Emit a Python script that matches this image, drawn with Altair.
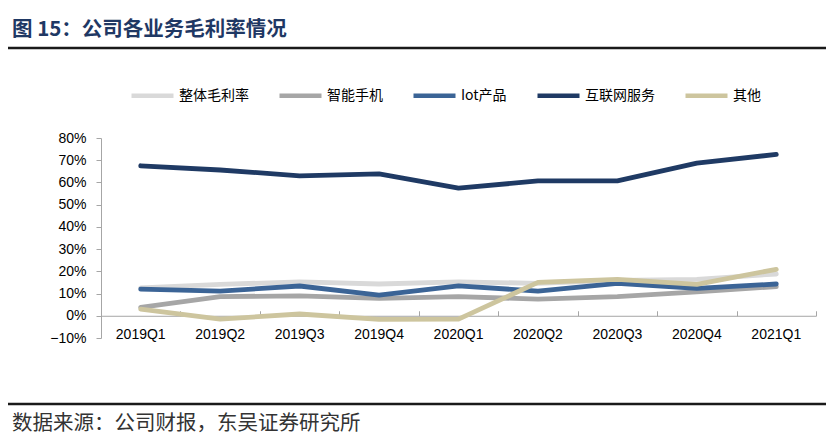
import altair as alt
import pandas as pd

quarters = ["2019Q1", "2019Q2", "2019Q3", "2019Q4", "2020Q1",
            "2020Q2", "2020Q3", "2020Q4", "2021Q1"]
series_names = ["整体毛利率", "智能手机", "Iot产品", "互联网服务", "其他"]
series_colors = ["#d9d9d9", "#a6a6a6", "#3b6496", "#1f3a64", "#cdc59e"]

# gross margin, %
overall = [12.6, 14.1, 15.3, 14.3, 15.3, 14.6, 15.9, 16.4, 18.8]
phone = [3.8, 8.6, 9.0, 7.8, 8.6, 7.5, 8.6, 10.8, 13.1]
iot = [12.0, 11.1, 13.4, 9.3, 13.5, 11.1, 14.6, 12.3, 14.3]
internet = [67.5, 65.6, 63.0, 63.9, 57.4, 60.7, 60.7, 68.7, 72.6]
other = [3.0, -1.5, 0.8, -1.6, -1.5, 15.0, 16.4, 14.1, 20.9]

y_ticks = [-0.1, 0, 0.1, 0.2, 0.3, 0.4, 0.5, 0.6, 0.7, 0.8]

title_text = "图 15：公司各业务毛利率情况"
source_text = "数据来源：公司财报，东吴证券研究所"

rows = []
for name, vals in zip(series_names, [overall, phone, iot, internet, other]):
    for q, v in zip(quarters, vals):
        rows.append({"quarter": q, "series": name, "rate": v / 100})
df = pd.DataFrame(rows)

W = 715
H = 200
zero_px = H * 0.8 / 0.9

x_scale = alt.Scale(type="band", domain=quarters, paddingInner=0, paddingOuter=0)

lines = alt.Chart(df).mark_line(strokeWidth=4.8, strokeCap="round", strokeJoin="round").encode(
    x=alt.X("quarter:O", scale=x_scale, bandPosition=0.5,
            axis=alt.Axis(orient="bottom", title=None, domain=False, ticks=False,
                          labelAngle=0, labelPadding=0, offset=-11,
                          labelFont="Liberation Sans", labelFontSize=14,
                          labelColor="#000000")),
    y=alt.Y("rate:Q", scale=alt.Scale(domain=[-0.1, 0.8], nice=False),
            axis=alt.Axis(format=".0%", values=y_ticks, grid=False, title=None,
                          domainColor="#a6a6a6", tickColor="#a6a6a6", tickSize=5,
                          labelPadding=10, labelFont="Liberation Sans",
                          labelFontSize=14, labelColor="#000000")),
    color=alt.Color("series:N", sort=series_names,
                    scale=alt.Scale(domain=series_names, range=series_colors),
                    legend=alt.Legend(orient="none", legendX=28, legendY=-66,
                                      direction="horizontal", title=None,
                                      symbolType="stroke", symbolSize=1764,
                                      symbolStrokeWidth=4.5, labelOffset=3,
                                      columnPadding=21, labelFontSize=14,
                                      labelFont="Noto Sans CJK SC",
                                      labelColor="#000000")),
)

# zero line with ticks between quarters (Excel style)
zero_axis = alt.Chart(df).mark_point(opacity=0).encode(
    x=alt.X("quarter:O", scale=x_scale, bandPosition=0.5,
            axis=alt.Axis(orient="top", title=None, labels=False, tickBand="extent",
                          offset=-zero_px, domainColor="#a6a6a6", tickColor="#a6a6a6",
                          tickSize=5)),
)

one = pd.DataFrame({"t": [title_text], "s": [source_text]})

title = alt.Chart(one).mark_text(align="left", baseline="middle", font="Noto Sans CJK SC",
                                 fontSize=20.5, fontWeight="bold", color="#1f3864").encode(
    x=alt.value(-89), y=alt.value(-108), text="t:N")
top_rule = alt.Chart(one).mark_rule(color="#1a1a1a", strokeWidth=2.5).encode(
    x=alt.value(-93), x2=alt.value(725), y=alt.value(-90))
bottom_rule = alt.Chart(one).mark_rule(color="#1a1a1a", strokeWidth=2.5).encode(
    x=alt.value(-93), x2=alt.value(725), y=alt.value(266))
source = alt.Chart(one).mark_text(align="left", baseline="middle", font="Noto Sans CJK SC",
                                  fontSize=20.5, color="#333333").encode(
    x=alt.value(-89), y=alt.value(286), text="s:N")

chart = alt.layer(zero_axis, lines, title, top_rule, bottom_rule, source).resolve_axis(
    x="independent"
).properties(
    width=W, height=H,
    autosize=alt.AutoSizeParams(type="none"),
    padding={"left": 93, "top": 130, "right": 10, "bottom": 99},
).configure_view(stroke=None)

chart.save("out.html", embed_options={"renderer": "svg", "actions": False})
